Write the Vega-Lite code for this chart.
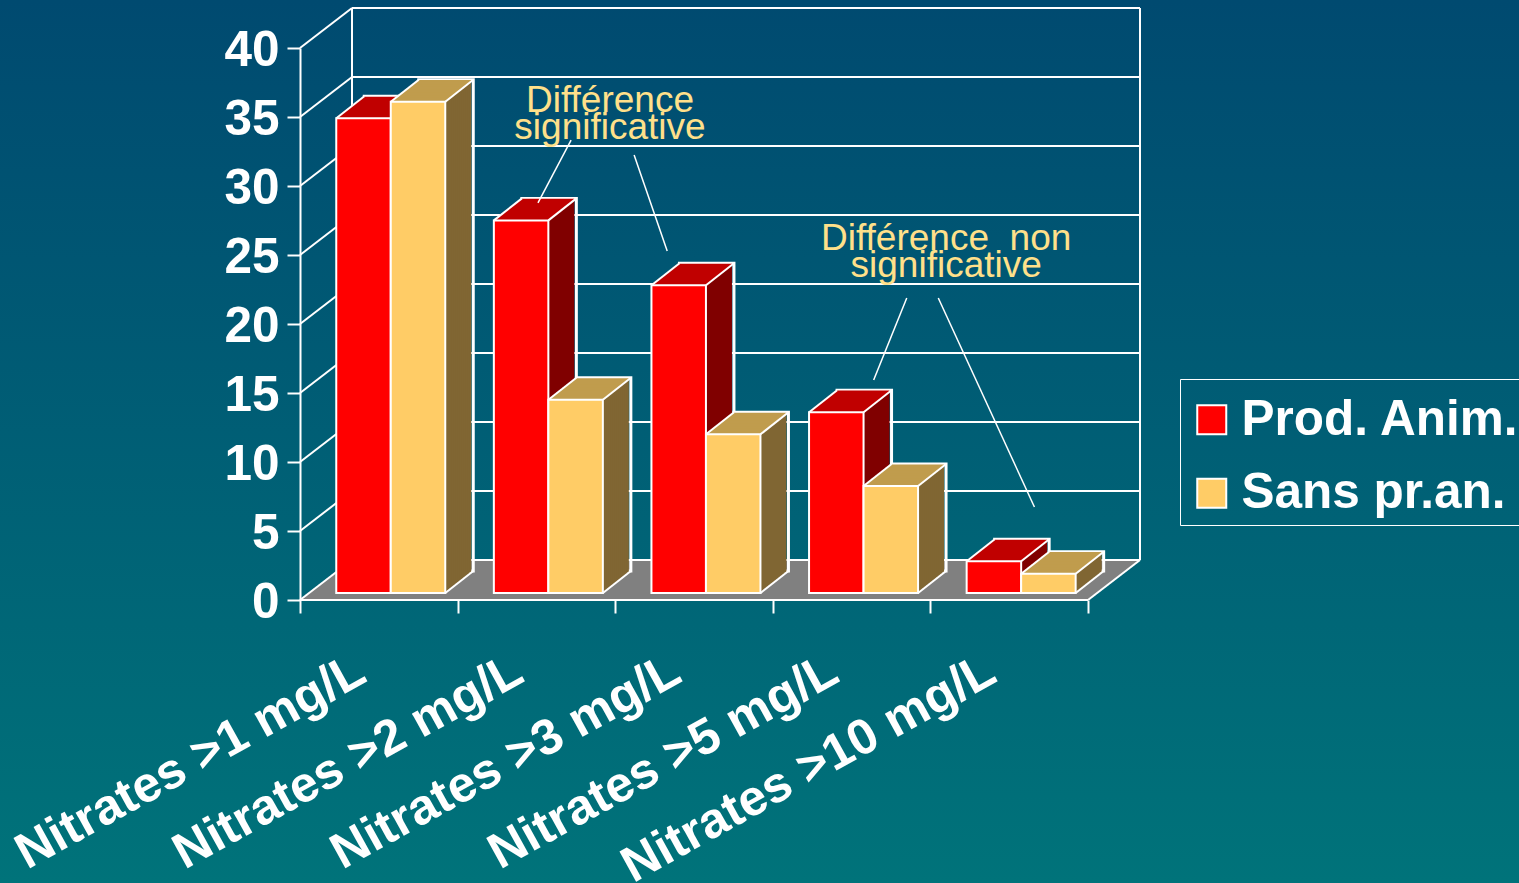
{
"$schema":"https://vega.github.io/schema/vega-lite/v6.json",
"width":1519,"height":883,"padding":0,"autosize":"none","background":"#00606f",
"view":{"stroke":null,"fill":{"gradient":"linear","x1":0,"y1":0,"x2":0,"y2":1,"stops":[{"offset":0,"color":"#004a70"},{"offset":1,"color":"#00737a"}]}},
"config":{"font":"Liberation Sans","axis":{"grid":false}},
"datasets":{
"bars":[
{"cat":"Nitrates >1 mg/L","series":"Prod. Anim.","value":34.4},
{"cat":"Nitrates >1 mg/L","series":"Sans pr.an.","value":35.6},
{"cat":"Nitrates >2 mg/L","series":"Prod. Anim.","value":27.0},
{"cat":"Nitrates >2 mg/L","series":"Sans pr.an.","value":14.0},
{"cat":"Nitrates >3 mg/L","series":"Prod. Anim.","value":22.3},
{"cat":"Nitrates >3 mg/L","series":"Sans pr.an.","value":11.5},
{"cat":"Nitrates >5 mg/L","series":"Prod. Anim.","value":13.1},
{"cat":"Nitrates >5 mg/L","series":"Sans pr.an.","value":7.75},
{"cat":"Nitrates >10 mg/L","series":"Prod. Anim.","value":2.3},
{"cat":"Nitrates >10 mg/L","series":"Sans pr.an.","value":1.4}],
"ticks":[{"tick":0},{"tick":5},{"tick":10},{"tick":15},{"tick":20},{"tick":25},{"tick":30},{"tick":35},{"tick":40}],
"notes":[
{"label":"Différence","px":1.967,"py":35.36},
{"label":"significative","px":1.967,"py":33.4},
{"label":"Différence\u00a0\u00a0non","px":4.1,"py":25.36},
{"label":"significative","px":4.1,"py":23.4}],
"leaders":[
{"a":1.72,"b":33.33,"a2":1.51,"b2":28.77},
{"a":2.12,"b":32.25,"a2":2.33,"b2":25.29},
{"a":3.85,"b":21.88,"a2":3.64,"b2":15.94},
{"a":4.05,"b":21.88,"a2":4.66,"b2":6.74}]
},
"resolve":{"scale":{"x":"independent"},"axis":{"y":"independent"}},
"layer":[
{"data":{"name":"ticks"},
 "encoding":{"x":{"datum":0,"type":"quantitative","scale":{"domain":[0,5],"range":[300,1088]},"axis":null},
  "x2":{"datum":5},
  "y":{"field":"tick","type":"quantitative","scale":{"domain":[0,40],"range":[600,48],"nice":false},
   "axis":{"orient":"left","offset":-300,"title":null,"values":[0,5,10,15,20,25,30,35,40],"domainColor":"white","domainWidth":2,"tickColor":"white","tickWidth":2,"tickSize":13,"labelColor":"white","labelFontSize":49.5,"labelFontWeight":"bold","labelPadding":8,"labelOffset":2,"labelFont":"Liberation Sans"}}},
 "layer":[
  {"transform":[{"filter":"datum.tick==0"}],
   "layer":[
   {"mark":{"type":"rule","color":"#808080","strokeWidth":2.4,"xOffset":2.6,"x2Offset":2.6,"yOffset":-2}},
   {"mark":{"type":"rule","color":"#808080","strokeWidth":2.4,"xOffset":5.2,"x2Offset":5.2,"yOffset":-4}},
   {"mark":{"type":"rule","color":"#808080","strokeWidth":2.4,"xOffset":7.8,"x2Offset":7.8,"yOffset":-6}},
   {"mark":{"type":"rule","color":"#808080","strokeWidth":2.4,"xOffset":10.4,"x2Offset":10.4,"yOffset":-8}},
   {"mark":{"type":"rule","color":"#808080","strokeWidth":2.4,"xOffset":13,"x2Offset":13,"yOffset":-10}},
   {"mark":{"type":"rule","color":"#808080","strokeWidth":2.4,"xOffset":15.6,"x2Offset":15.6,"yOffset":-12}},
   {"mark":{"type":"rule","color":"#808080","strokeWidth":2.4,"xOffset":18.2,"x2Offset":18.2,"yOffset":-14}},
   {"mark":{"type":"rule","color":"#808080","strokeWidth":2.4,"xOffset":20.8,"x2Offset":20.8,"yOffset":-16}},
   {"mark":{"type":"rule","color":"#808080","strokeWidth":2.4,"xOffset":23.4,"x2Offset":23.4,"yOffset":-18}},
   {"mark":{"type":"rule","color":"#808080","strokeWidth":2.4,"xOffset":26,"x2Offset":26,"yOffset":-20}},
   {"mark":{"type":"rule","color":"#808080","strokeWidth":2.4,"xOffset":28.6,"x2Offset":28.6,"yOffset":-22}},
   {"mark":{"type":"rule","color":"#808080","strokeWidth":2.4,"xOffset":31.2,"x2Offset":31.2,"yOffset":-24}},
   {"mark":{"type":"rule","color":"#808080","strokeWidth":2.4,"xOffset":33.8,"x2Offset":33.8,"yOffset":-26}},
   {"mark":{"type":"rule","color":"#808080","strokeWidth":2.4,"xOffset":36.4,"x2Offset":36.4,"yOffset":-28}},
   {"mark":{"type":"rule","color":"#808080","strokeWidth":2.4,"xOffset":39,"x2Offset":39,"yOffset":-30}},
   {"mark":{"type":"rule","color":"#808080","strokeWidth":2.4,"xOffset":41.6,"x2Offset":41.6,"yOffset":-32}},
   {"mark":{"type":"rule","color":"#808080","strokeWidth":2.4,"xOffset":44.2,"x2Offset":44.2,"yOffset":-34}},
   {"mark":{"type":"rule","color":"#808080","strokeWidth":2.4,"xOffset":46.8,"x2Offset":46.8,"yOffset":-36}},
   {"mark":{"type":"rule","color":"#808080","strokeWidth":2.4,"xOffset":49.4,"x2Offset":49.4,"yOffset":-38}},
   {"mark":{"type":"rule","color":"white","strokeWidth":2}}
   ]},
  {"mark":{"type":"rule","color":"white","strokeWidth":2,"xOffset":52,"x2Offset":52,"yOffset":-40}},
  {"mark":{"type":"rule","color":"white","strokeWidth":2,"x2Offset":52,"y2Offset":-40},
   "encoding":{"x2":{"datum":0},"y2":{"field":"tick"}}},
  {"transform":[{"filter":"datum.tick==0"}],
   "mark":{"type":"rule","color":"white","strokeWidth":2,"x2Offset":52,"y2Offset":-40},
   "encoding":{"x":{"datum":5,"type":"quantitative","axis":null},"x2":{"datum":5},"y2":{"field":"tick"}}},
  {"transform":[{"filter":"datum.tick==0"}],
   "mark":{"type":"rule","color":"white","strokeWidth":2,"xOffset":52,"yOffset":-40,"y2Offset":-40},
   "encoding":{"x":{"datum":0,"type":"quantitative","axis":null},"x2":null,"y2":{"datum":40}}},
  {"transform":[{"filter":"datum.tick==0"}],
   "mark":{"type":"rule","color":"white","strokeWidth":2,"xOffset":52,"yOffset":-40,"y2Offset":-40},
   "encoding":{"x":{"datum":5,"type":"quantitative","axis":null},"x2":null,"y2":{"datum":40}}}
 ]},
{"data":{"name":"bars"},
 "encoding":{"x":{"field":"cat","type":"nominal","sort":null,"scale":{"range":[300,1088],"paddingInner":0,"paddingOuter":0},"axis":null},
  "y":{"field":"value","type":"quantitative","axis":null}},
 "layer":[
  {"mark":{"type":"bar","size":54.5,"xOffset":{"expr":"(datum.series=='Prod. Anim.'?-15.3:39.2)+28"},"yOffset":-29,"y2Offset":-29,"fillOpacity":0,"stroke":"white","strokeWidth":3},"encoding":{"y2":{"datum":0}}},
  {"encoding":{"y2":{"datum":0},"fill":{"condition":{"test":"datum.series=='Prod. Anim.'","value":"#800000"},"value":"#806633"}},
   "layer":[
   {"mark":{"type":"bar","size":54.5,"xOffset":{"expr":"(datum.series=='Prod. Anim.'?-15.3:39.2)+26"},"yOffset":-27.4,"y2Offset":-27.4}},
   {"mark":{"type":"bar","size":54.5,"xOffset":{"expr":"(datum.series=='Prod. Anim.'?-15.3:39.2)+24"},"yOffset":-25.8,"y2Offset":-25.8}},
   {"mark":{"type":"bar","size":54.5,"xOffset":{"expr":"(datum.series=='Prod. Anim.'?-15.3:39.2)+22"},"yOffset":-24.3,"y2Offset":-24.3}},
   {"mark":{"type":"bar","size":54.5,"xOffset":{"expr":"(datum.series=='Prod. Anim.'?-15.3:39.2)+20"},"yOffset":-22.7,"y2Offset":-22.7}},
   {"mark":{"type":"bar","size":54.5,"xOffset":{"expr":"(datum.series=='Prod. Anim.'?-15.3:39.2)+18"},"yOffset":-21.1,"y2Offset":-21.1}},
   {"mark":{"type":"bar","size":54.5,"xOffset":{"expr":"(datum.series=='Prod. Anim.'?-15.3:39.2)+16"},"yOffset":-19.6,"y2Offset":-19.6}},
   {"mark":{"type":"bar","size":54.5,"xOffset":{"expr":"(datum.series=='Prod. Anim.'?-15.3:39.2)+14"},"yOffset":-18,"y2Offset":-18}},
   {"mark":{"type":"bar","size":54.5,"xOffset":{"expr":"(datum.series=='Prod. Anim.'?-15.3:39.2)+12"},"yOffset":-16.4,"y2Offset":-16.4}},
   {"mark":{"type":"bar","size":54.5,"xOffset":{"expr":"(datum.series=='Prod. Anim.'?-15.3:39.2)+10"},"yOffset":-14.9,"y2Offset":-14.9}},
   {"mark":{"type":"bar","size":54.5,"xOffset":{"expr":"(datum.series=='Prod. Anim.'?-15.3:39.2)+8"},"yOffset":-13.3,"y2Offset":-13.3}},
   {"mark":{"type":"bar","size":54.5,"xOffset":{"expr":"(datum.series=='Prod. Anim.'?-15.3:39.2)+6"},"yOffset":-11.7,"y2Offset":-11.7}},
   {"mark":{"type":"bar","size":54.5,"xOffset":{"expr":"(datum.series=='Prod. Anim.'?-15.3:39.2)+4"},"yOffset":-10.1,"y2Offset":-10.1}},
   {"mark":{"type":"bar","size":54.5,"xOffset":{"expr":"(datum.series=='Prod. Anim.'?-15.3:39.2)+2"},"yOffset":-8.6,"y2Offset":-8.6}}
   ]},
  {"encoding":{"y2":{"field":"value"},
    "fill":{"condition":{"test":"datum.series=='Prod. Anim.'","value":"#c00000"},"value":"#c09c4d"},
    "stroke":{"condition":{"test":"datum.series=='Prod. Anim.'","value":"#c00000"},"value":"#c09c4d"}},
   "layer":[
   {"mark":{"type":"bar","size":54.5,"strokeWidth":2.4,"xOffset":{"expr":"(datum.series=='Prod. Anim.'?-15.3:39.2)+26"},"yOffset":-27.4,"y2Offset":-27.4}},
   {"mark":{"type":"bar","size":54.5,"strokeWidth":2.4,"xOffset":{"expr":"(datum.series=='Prod. Anim.'?-15.3:39.2)+24"},"yOffset":-25.8,"y2Offset":-25.8}},
   {"mark":{"type":"bar","size":54.5,"strokeWidth":2.4,"xOffset":{"expr":"(datum.series=='Prod. Anim.'?-15.3:39.2)+22"},"yOffset":-24.3,"y2Offset":-24.3}},
   {"mark":{"type":"bar","size":54.5,"strokeWidth":2.4,"xOffset":{"expr":"(datum.series=='Prod. Anim.'?-15.3:39.2)+20"},"yOffset":-22.7,"y2Offset":-22.7}},
   {"mark":{"type":"bar","size":54.5,"strokeWidth":2.4,"xOffset":{"expr":"(datum.series=='Prod. Anim.'?-15.3:39.2)+18"},"yOffset":-21.1,"y2Offset":-21.1}},
   {"mark":{"type":"bar","size":54.5,"strokeWidth":2.4,"xOffset":{"expr":"(datum.series=='Prod. Anim.'?-15.3:39.2)+16"},"yOffset":-19.6,"y2Offset":-19.6}},
   {"mark":{"type":"bar","size":54.5,"strokeWidth":2.4,"xOffset":{"expr":"(datum.series=='Prod. Anim.'?-15.3:39.2)+14"},"yOffset":-18,"y2Offset":-18}},
   {"mark":{"type":"bar","size":54.5,"strokeWidth":2.4,"xOffset":{"expr":"(datum.series=='Prod. Anim.'?-15.3:39.2)+12"},"yOffset":-16.4,"y2Offset":-16.4}},
   {"mark":{"type":"bar","size":54.5,"strokeWidth":2.4,"xOffset":{"expr":"(datum.series=='Prod. Anim.'?-15.3:39.2)+10"},"yOffset":-14.9,"y2Offset":-14.9}},
   {"mark":{"type":"bar","size":54.5,"strokeWidth":2.4,"xOffset":{"expr":"(datum.series=='Prod. Anim.'?-15.3:39.2)+8"},"yOffset":-13.3,"y2Offset":-13.3}},
   {"mark":{"type":"bar","size":54.5,"strokeWidth":2.4,"xOffset":{"expr":"(datum.series=='Prod. Anim.'?-15.3:39.2)+6"},"yOffset":-11.7,"y2Offset":-11.7}},
   {"mark":{"type":"bar","size":54.5,"strokeWidth":2.4,"xOffset":{"expr":"(datum.series=='Prod. Anim.'?-15.3:39.2)+4"},"yOffset":-10.1,"y2Offset":-10.1}},
   {"mark":{"type":"bar","size":54.5,"strokeWidth":2.4,"xOffset":{"expr":"(datum.series=='Prod. Anim.'?-15.3:39.2)+2"},"yOffset":-8.6,"y2Offset":-8.6}}
   ]}
 ]},
{"data":{"name":"bars"},
 "encoding":{"x":{"field":"cat","type":"nominal","sort":null,"scale":{"type":"point","range":[378.8,1009.2],"padding":0},"axis":null},
  "x2":{"field":"cat"},
  "y":{"field":"value","type":"quantitative","axis":null},
  "y2":{"field":"value"}},
 "layer":[
  {"transform":[{"filter":"datum.series=='Prod. Anim.'"}],
   "mark":{"type":"rule","color":"white","strokeWidth":2,"xOffset":-42.5,"x2Offset":-14.5,"yOffset":-7,"y2Offset":-29}},
  {"transform":[{"filter":"datum.series=='Prod. Anim.' && datum.cat!='Nitrates >1 mg/L'"}],
   "mark":{"type":"rule","color":"white","strokeWidth":2,"xOffset":12,"x2Offset":40,"yOffset":-7,"y2Offset":-29}},
  {"transform":[{"filter":"datum.series=='Sans pr.an.'"}],
   "layer":[
   {"mark":{"type":"rule","color":"white","strokeWidth":2,"xOffset":12,"x2Offset":40,"yOffset":-7,"y2Offset":-29}},
   {"mark":{"type":"rule","color":"white","strokeWidth":2,"xOffset":66.5,"x2Offset":94.5,"yOffset":-7,"y2Offset":-29}},
   {"mark":{"type":"rule","color":"white","strokeWidth":2,"xOffset":66.5,"x2Offset":94.5,"yOffset":-7,"y2Offset":-29},
    "encoding":{"y":{"datum":0,"type":"quantitative","axis":null},"y2":{"datum":0}}}
   ]}
 ]},
{"data":{"name":"bars"},
 "mark":{"type":"bar","size":54.5,"xOffset":{"expr":"datum.series=='Prod. Anim.'?-15.3:39.2"},"yOffset":-7,"y2Offset":-7,"stroke":"white","strokeWidth":2},
 "encoding":{"x":{"field":"cat","type":"nominal","sort":null,"scale":{"range":[300,1088],"paddingInner":0,"paddingOuter":0},
   "axis":{"orient":"bottom","offset":-283,"title":null,"tickBand":"extent","domain":false,"tickColor":"white","tickWidth":2,"tickSize":13,"labelAngle":-29,"labelAlign":"right","labelBaseline":"top","labelColor":"white","labelFontSize":50,"labelFontWeight":"bold","labelPadding":32,"labelOffset":-30,"labelLimit":700,"labelFont":"Liberation Sans"}},
  "y":{"field":"value","type":"quantitative","axis":null},
  "y2":{"datum":0},
  "color":{"field":"series","type":"nominal","sort":null,"scale":{"range":["#ff0000","#ffcc66"]},
     "legend":{"orient":"none","legendX":1180,"legendY":379,"title":" ","titleFontSize":9,"titlePadding":0,"padding":7,"strokeColor":"white","symbolType":"square","symbolSize":841,"symbolStrokeColor":"white","symbolStrokeWidth":2,"labelColor":"white","labelFontSize":49.5,"labelFontWeight":"bold","labelFont":"Liberation Sans","rowPadding":22.5,"labelOffset":5,"labelLimit":400}}}},
{"data":{"name":"notes"},
 "mark":{"type":"text","color":"#ffe08a","fontSize":37,"align":"center","baseline":"alphabetic"},
 "encoding":{"x":{"field":"px","type":"quantitative","scale":{"domain":[0,5],"range":[300,1088]},"axis":null},
  "y":{"field":"py","type":"quantitative","axis":null},
  "text":{"field":"label"}}},
{"data":{"name":"leaders"},
 "mark":{"type":"rule","color":"white","strokeWidth":1.5},
 "encoding":{"x":{"field":"a","type":"quantitative","scale":{"domain":[0,5],"range":[300,1088]},"axis":null},
  "x2":{"field":"a2"},
  "y":{"field":"b","type":"quantitative","axis":null},
  "y2":{"field":"b2"}}}
]
}
